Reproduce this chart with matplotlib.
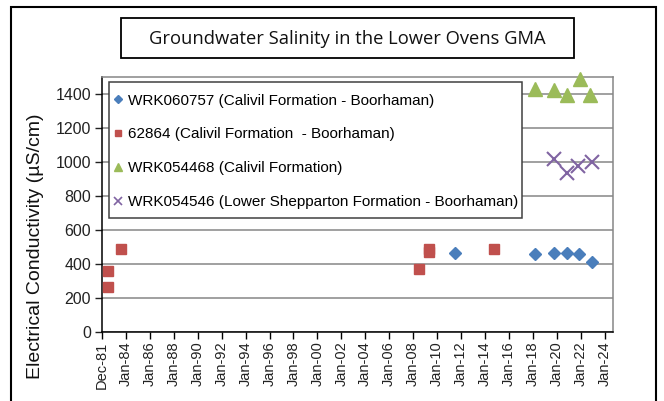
import matplotlib
matplotlib.use("Agg")
import matplotlib.pyplot as plt
from matplotlib.patches import Rectangle
from matplotlib.lines import Line2D
import pandas as pd

# ---- data ----
s1_label = "WRK060757 (Calivil Formation - Boorhaman)"
s1_dates = ["2011-06-20", "2018-03-20", "2019-10-20", "2020-11-15", "2021-11-25", "2022-12-25"]
s1_vals = [462, 458, 466, 462, 458, 413]

s2_label = "62864 (Calivil Formation  - Boorhaman)"
s2_dates = ["1982-07-10", "1982-07-10", "1983-08-10", "2008-07-01", "2009-05-10", "2009-05-10", "2014-09-25"]
s2_vals = [360, 262, 488, 370, 490, 468, 488]

s3_label = "WRK054468 (Calivil Formation)"
s3_dates = ["2018-03-20", "2019-10-20", "2020-11-15", "2021-12-20", "2022-10-15"]
s3_vals = [1430, 1425, 1396, 1494, 1396]

s4_label = "WRK054546 (Lower Shepparton Formation - Boorhaman)"
s4_dates = ["2019-10-20", "2020-11-15", "2021-10-05", "2022-12-05"]
s4_vals = [1017, 938, 977, 1003]

tick_dates = ["1981-12-31"] + [f"{y}-01-01" for y in range(1984, 2025, 2)]
tick_labels = ["Dec-81"] + [f"Jan-{y % 100:02d}" for y in range(1984, 2025, 2)]

title = "Groundwater Salinity in the Lower Ovens GMA"
ylabel = "Electrical Conductivity (µS/cm)"

# ---- figure ----
W, H = 664, 401
fig = plt.figure(figsize=(W / 100, H / 100), dpi=100)
plt.rcParams['font.family'] = ['Liberation Sans', 'DejaVu Sans']

L, R, T, B = 102, 613.3, 77.5, 331.7
ax = fig.add_axes([L / W, 1 - B / H, (R - L) / W, (B - T) / H])

ax.set_ylim(0, 1500)
ax.set_xlim(pd.Timestamp("1981-12-31"), pd.Timestamp("2024-09-25"))
ax.set_yticks(range(0, 1401, 200))
ax.yaxis.grid(True, color="#868686", linewidth=1.1)
ax.set_axisbelow(True)

ax.set_xticks([pd.Timestamp(d) for d in tick_dates])
ax.set_xticklabels(tick_labels, rotation=90, fontsize=10.5, color="#222222")
ax.tick_params(axis='y', labelsize=11.5, length=5, width=1, colors="#222222", pad=3)
ax.tick_params(axis='x', length=5, width=1, pad=2)

for side in ["top", "right"]:
    ax.spines[side].set_color("#868686")
    ax.spines[side].set_linewidth(1.1)
for side in ["left", "bottom"]:
    ax.spines[side].set_color("black")
    ax.spines[side].set_linewidth(1.1)

c1, c2, c3, c4 = "#4A7EBB", "#C0504D", "#9BBB59", "#8064A2"
ax.plot(pd.to_datetime(s1_dates), s1_vals, linestyle="none", marker="D", markersize=6.5,
        color=c1, clip_on=False, zorder=3)
ax.plot(pd.to_datetime(s2_dates), s2_vals, linestyle="none", marker="s", markersize=6.5,
        color=c2, clip_on=False, zorder=3)
ax.plot(pd.to_datetime(s3_dates), s3_vals, linestyle="none", marker="^", markersize=10,
        color=c3, clip_on=False, zorder=3)
ax.plot(pd.to_datetime(s4_dates), s4_vals, linestyle="none", marker="x", markersize=10,
        markeredgewidth=1.5, color=c4, clip_on=False, zorder=3)

# legend box (frame drawn separately)
lx0, ly0, lx1, ly1 = 109, 82, 522, 218
ax.add_patch(Rectangle((lx0 / W, 1 - ly1 / H), (lx1 - lx0) / W, (ly1 - ly0) / H,
                       transform=fig.transFigure, facecolor="white", edgecolor="#404040",
                       linewidth=1.1, zorder=4, clip_on=False))
handles = [
    Line2D([], [], linestyle="none", marker="D", markersize=4.5, color=c1),
    Line2D([], [], linestyle="none", marker="s", markersize=5, color=c2),
    Line2D([], [], linestyle="none", marker="^", markersize=6, color=c3),
    Line2D([], [], linestyle="none", marker="x", markersize=6, markeredgewidth=1.2, color=c4),
]
leg = ax.legend(handles=handles, labels=[s1_label, s2_label, s3_label, s4_label],
                loc="center left", bbox_to_anchor=(113.4 / W, 1 - 151.4 / H),
                bbox_transform=fig.transFigure, fontsize=11, frameon=False,
                borderaxespad=0, borderpad=0, handlelength=0.6, handletextpad=0.36,
                labelspacing=1.3)
leg.set_zorder(5)

fig.text(36 / W, 1 - 246.5 / H, ylabel, rotation=90, ha="center", va="center",
         fontsize=14, color="#111111")

# title box
fig.patches.append(Rectangle((121 / W, 1 - 58.3 / H), (574 - 121) / W, (58.3 - 17.7) / H,
                             transform=fig.transFigure, fill=False, edgecolor="black",
                             linewidth=1.3))
fig.text(347.5 / W, 1 - 38.5 / H, title, ha="center", va="center", fontsize=13.2,
         family=["Open Sans", "DejaVu Sans"], color="#111111")

# outer chart border
fig.patches.append(Rectangle((11 / W, -0.05), (656 - 11) / W, 1 - 7 / H + 0.05,
                             transform=fig.transFigure, fill=False, edgecolor="black",
                             linewidth=1.5, clip_on=False))

fig.savefig("out.png", dpi=100)
